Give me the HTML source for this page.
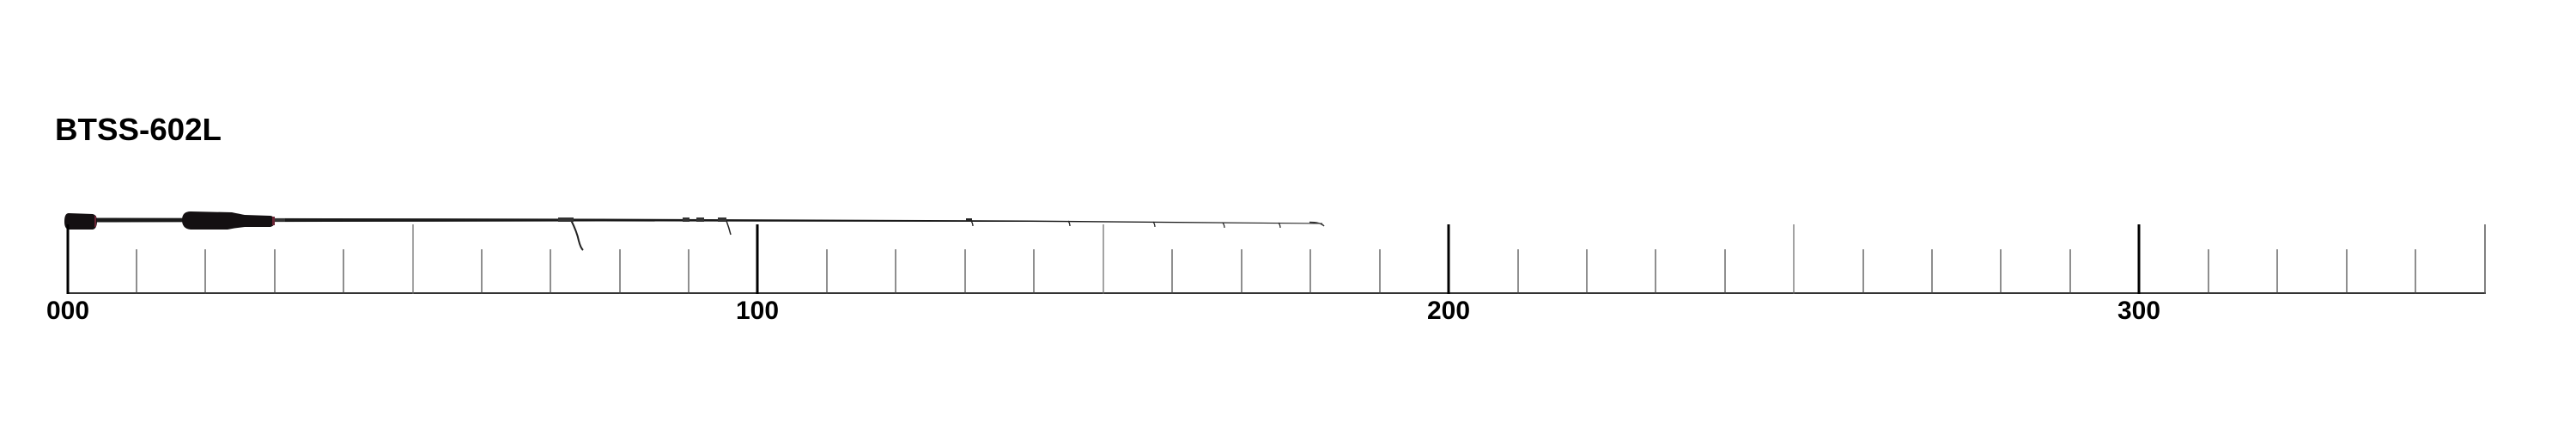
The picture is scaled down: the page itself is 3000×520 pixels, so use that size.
<!DOCTYPE html>
<html><head><meta charset="utf-8"><style>
html,body{margin:0;padding:0;background:#fff;width:3000px;height:520px;overflow:hidden}
svg text{font-family:"Liberation Sans",sans-serif;font-weight:bold;fill:#000}
</style></head><body>
<svg width="3000" height="520" viewBox="0 0 3000 520" xmlns="http://www.w3.org/2000/svg">
<rect width="3000" height="520" fill="#fff"/>
<text x="64" y="163" font-size="36" textLength="194" lengthAdjust="spacingAndGlyphs">BTSS-602L</text>
<!-- baseline -->
<line x1="78" y1="341" x2="2895" y2="341" stroke="#333" stroke-width="2"/>
<!-- rod blank -->
<polygon points="100,253.5 700,254.5 1200,256.5 1540,259.5 1540,260.5 1200,258 700,257.5 100,258.5" fill="#1a1a1a"/>
<path d="M1525 258.5 Q1538 258.5 1542 263" stroke="#333" stroke-width="1.5" fill="none"/>
<!-- butt cap -->
<path d="M80 248 L108 249 Q113 250 113 257 Q113 266 108 267 L80 267 Q75 266 75 258 Q75 248 80 248Z" fill="#141012"/>
<rect x="110" y="251" width="2" height="13" fill="#6a2434"/>
<!-- grip -->
<path d="M222 246 L270 247 Q280 249 285 250 L315 251 Q320 252 320 257 Q320 263 315 264 L285 264 Q275 265 265 267 L222 267 Q212 266 212 256 Q212 246 222 246Z" fill="#141012"/>
<rect x="317" y="252" width="3" height="10" fill="#6a2434"/>
<rect x="320" y="254" width="12" height="4" fill="#333"/>
<!-- guides -->
<path d="M665 256 Q672 270 674 280 Q676 288 679 291" stroke="#222" stroke-width="2" fill="none"/>
<rect x="650" y="253" width="18" height="5" fill="#333"/>
<path d="M846 257 Q849 265 851 273" stroke="#222" stroke-width="1.5" fill="none"/>
<rect x="795" y="253" width="8" height="5" fill="#333"/><rect x="811" y="253" width="9" height="5" fill="#333"/><rect x="836" y="253" width="10" height="5" fill="#333"/>
<path d="M1131 257 q2 3 2 6" stroke="#222" stroke-width="1.3" fill="none"/>
<path d="M1244 257 q2 3 2 6" stroke="#222" stroke-width="1.3" fill="none"/>
<path d="M1343 258 q2 3 2 6" stroke="#222" stroke-width="1.2" fill="none"/>
<path d="M1424 259 q2 3 2 6" stroke="#222" stroke-width="1.2" fill="none"/>
<path d="M1489 259 q2 3 2 6" stroke="#222" stroke-width="1.2" fill="none"/>
<rect x="1125" y="254" width="7" height="4" fill="#222"/>
<text x="79" y="371" font-size="30" text-anchor="middle" textLength="50" lengthAdjust="spacingAndGlyphs">000</text>
<text x="882" y="371" font-size="30" text-anchor="middle" textLength="50" lengthAdjust="spacingAndGlyphs">100</text>
<text x="1687" y="371" font-size="30" text-anchor="middle" textLength="50" lengthAdjust="spacingAndGlyphs">200</text>
<text x="2491" y="371" font-size="30" text-anchor="middle" textLength="50" lengthAdjust="spacingAndGlyphs">300</text>
<line x1="79" y1="261" x2="79" y2="342" stroke="#000" stroke-width="3"/>
<line x1="882" y1="261" x2="882" y2="342" stroke="#000" stroke-width="3"/>
<line x1="1687" y1="261" x2="1687" y2="342" stroke="#000" stroke-width="3"/>
<line x1="2491" y1="261" x2="2491" y2="342" stroke="#000" stroke-width="3"/>
<line x1="2894" y1="261" x2="2894" y2="342" stroke="#555" stroke-width="1.5"/>
<line x1="481" y1="261" x2="481" y2="342" stroke="#666" stroke-width="1.2"/>
<line x1="1285" y1="261" x2="1285" y2="342" stroke="#666" stroke-width="1.2"/>
<line x1="2089" y1="261" x2="2089" y2="342" stroke="#666" stroke-width="1.2"/>
<g stroke="#444" stroke-width="1.2">
<line x1="159" y1="290" x2="159" y2="342"/><line x1="239" y1="290" x2="239" y2="342"/><line x1="320" y1="290" x2="320" y2="342"/><line x1="400" y1="290" x2="400" y2="342"/>
<line x1="561" y1="290" x2="561" y2="342"/><line x1="641" y1="290" x2="641" y2="342"/><line x1="722" y1="290" x2="722" y2="342"/><line x1="802" y1="290" x2="802" y2="342"/>
<line x1="963" y1="290" x2="963" y2="342"/><line x1="1043" y1="290" x2="1043" y2="342"/><line x1="1124" y1="290" x2="1124" y2="342"/><line x1="1204" y1="290" x2="1204" y2="342"/>
<line x1="1365" y1="290" x2="1365" y2="342"/><line x1="1446" y1="290" x2="1446" y2="342"/><line x1="1526" y1="290" x2="1526" y2="342"/><line x1="1607" y1="290" x2="1607" y2="342"/>
<line x1="1768" y1="290" x2="1768" y2="342"/><line x1="1848" y1="290" x2="1848" y2="342"/><line x1="1928" y1="290" x2="1928" y2="342"/><line x1="2009" y1="290" x2="2009" y2="342"/>
<line x1="2170" y1="290" x2="2170" y2="342"/><line x1="2250" y1="290" x2="2250" y2="342"/><line x1="2330" y1="290" x2="2330" y2="342"/><line x1="2411" y1="290" x2="2411" y2="342"/>
<line x1="2572" y1="290" x2="2572" y2="342"/><line x1="2652" y1="290" x2="2652" y2="342"/><line x1="2733" y1="290" x2="2733" y2="342"/><line x1="2813" y1="290" x2="2813" y2="342"/>
</g>
</svg>
</body></html>
